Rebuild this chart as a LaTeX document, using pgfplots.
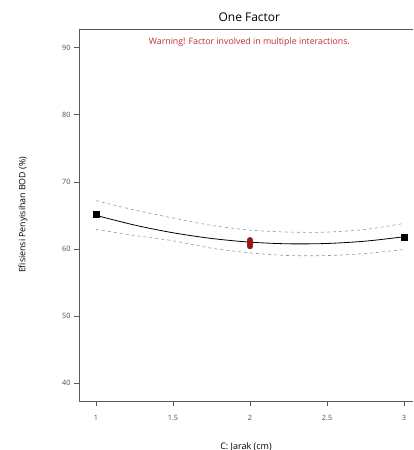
\documentclass[border=0pt]{standalone}
\usepackage{fontspec}
\setmainfont{Open Sans}
\usepackage{pgfplots}
\pgfplotsset{compat=1.18}
\definecolor{band}{RGB}{110,170,165}
\definecolor{ptred}{RGB}{150,25,25}
\definecolor{warn}{RGB}{185,45,55}
\definecolor{axgray}{RGB}{90,90,90}
\begin{document}
\begin{tikzpicture}[x=1pt,y=1pt]
\path[use as bounding box] (-79,-49) rectangle (334,401);
\begin{axis}[
  at={(0,0)}, anchor=south west,
  scale only axis, width=334pt, height=372pt,
  xmin=0.89, xmax=3.058, ymin=37.3, ymax=92.8,
  axis x line*=bottom, axis y line*=left,
  axis line style={axgray, line width=0.8pt},
  xtick={1,1.5,2,2.5,3}, ytick={40,50,60,70,80,90},
  xticklabels={1,1.5,2,2.5,3},
  tick align=outside, major tick length=5pt,
  tick style={axgray, line width=0.6pt},
  tick label style={font=\fontsize{7.3}{8}\selectfont, text=black!70},
  /pgf/number format/assume math mode=true,
  xticklabel style={yshift=-6pt},
  xlabel={C: Jarak (cm)},
  ylabel={Efisiensi Penyisihan BOD (\%)},
  xlabel style={font=\fontsize{9}{10}\selectfont, at={(axis description cs:0.5,0)}, yshift=-38pt},
  ylabel style={font=\fontsize{8.8}{10}\selectfont, at={(axis description cs:0,0.5)}, yshift=48pt},
  title={One Factor},
  title style={font=\fontsize{12}{13}\selectfont, at={(axis description cs:0.51,1)}, yshift=-2pt},
  clip=false,
]
\draw[axgray, line width=0.8pt] (rel axis cs:0,1) -- (rel axis cs:1,1);
\node[font=\fontsize{8.8}{10}\selectfont, text=warn] at (rel axis cs:0.51,0.965) {Warning! Factor involved in multiple interactions.};
\addplot[band, dashed, line width=0.6pt, smooth] coordinates {
 (1,67.2) (1.25,65.8) (1.5,64.6) (1.75,63.5) (2,62.8) (2.25,62.5) (2.5,62.5) (2.75,62.9) (3,63.8)};
\addplot[band, dashed, line width=0.6pt, smooth] coordinates {
 (1,62.9) (1.25,62.0) (1.5,61.2) (1.75,60.1) (2,59.4) (2.25,59.0) (2.5,59.0) (2.75,59.3) (3,59.9)};
\addplot[black, line width=0.8pt, smooth] coordinates {
 (1,65.0) (1.25,63.55) (1.5,62.4) (1.75,61.55) (2,61.0) (2.25,60.75) (2.5,60.8) (2.75,61.15) (3,61.8)};
\addplot[only marks, mark=square*, mark size=3pt, black] coordinates {(1,65.1) (3,61.8)};
\addplot[only marks, mark=*, mark size=2.8pt, ptred] coordinates {(2,61.3) (2,61.0) (2,60.7) (2,60.4)};
\end{axis}
\end{tikzpicture}
\end{document}
